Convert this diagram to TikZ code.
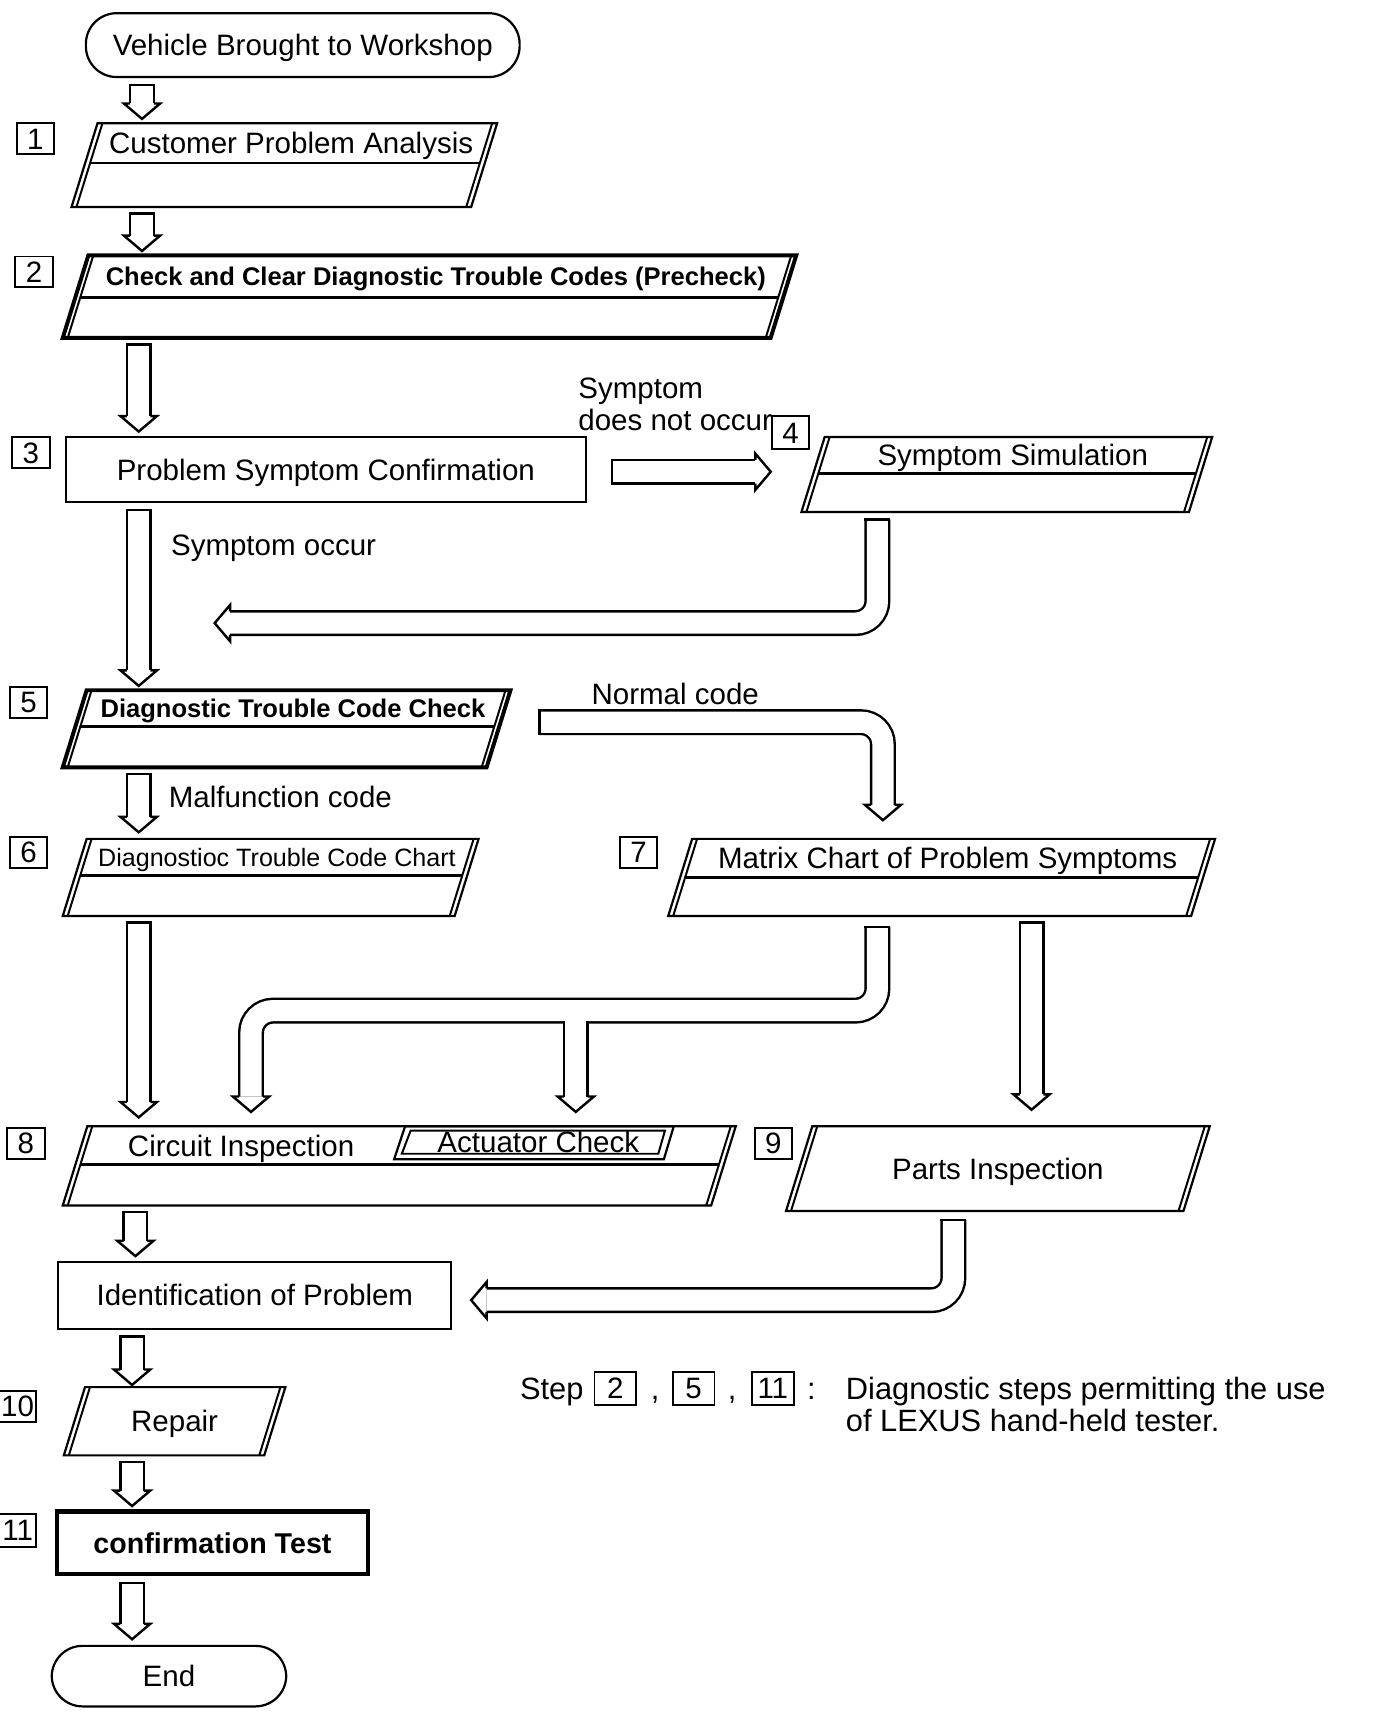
\documentclass[tikz,border=0pt]{standalone}
\usepackage{fontspec}
\setmainfont{Liberation Sans}
\usetikzlibrary{calc}

\tikzset{
  txt/.style={font=\fontsize{13.4pt}{16pt}\selectfont, text height=9.6pt, text depth=0pt, inner sep=0pt},
  txtb/.style={font=\bfseries\fontsize{11.6pt}{14pt}\selectfont, text height=8.4pt, text depth=0pt, inner sep=0pt},
  txts/.style={font=\fontsize{11.4pt}{14pt}\selectfont, text height=8.2pt, text depth=0pt, inner sep=0pt},
  note/.style={font=\fontsize{14pt}{16pt}\selectfont, text height=10pt, text depth=0pt, inner sep=0pt},
  term/.style={draw, line width=1pt, rounded corners=14pt, txt},
  procbox/.style={draw, line width=1pt, txt},
  stepno/.style={draw, line width=0.9pt, minimum width=17pt, minimum height=14pt, txt},
  shaft/.style={double, double distance=9.6pt, line width=1.1pt},
  capl/.style={line width=1.1pt, line cap=rect},
  headd/.pic={\draw[line width=1.1pt] (-10.7,-14) -- (-16.5,-14) -- (0,0) -- (16.5,-14) -- (10.7,-14);},
}

% parallelogram with double slanted sides and a header line
% #1 name, #2 left x (bottom), #3 right x (bottom), #4 top y, #5 bottom y,
% #6 header line y, #7 frame width, #8 text style, #9 text
\newcommand\parabox[9]{%
  \pgfmathsetmacro\pbsl{0.31*(#5-#4)}%
  \pgfmathsetmacro\pbym{(#4+#6)/2}%
  \pgfmathsetmacro\pbxm{(#2+#3)/2+0.31*(#5-\pbym)}%
  \pgfmathsetmacro\pbxd{0.31*(#5-#6)}%
  \coordinate (#1-bl) at (#2,#5);
  \coordinate (#1-br) at (#3,#5);
  \coordinate (#1-tl) at ({#2+\pbsl},#4);
  \coordinate (#1-tr) at ({#3+\pbsl},#4);
  \draw[line width=#7] (#1-bl) -- (#1-tl) -- (#1-tr) -- (#1-br) -- cycle;
  \draw[line width=0.9pt] ($(#1-bl)+(4.5,0)$) -- ($(#1-tl)+(4.5,0)$);
  \draw[line width=0.9pt] ($(#1-br)+(-4.5,0)$) -- ($(#1-tr)+(-4.5,0)$);
  \ifdim #6pt<#5pt
    \draw[line width=1.2pt] ({#2+4.5+\pbxd},#6) -- ({#3-4.5+\pbxd},#6);
  \fi
  \node[#8] (#1) at (\pbxm,\pbym) {#9};}

% straight hollow arrow down: [tip gap] column, from, to
\newcommand\varrow[4][4]{%
  \draw[shaft] ($(#3 -| #2)+(0,6)$) -- ($(#4 -| #2)+(0,-14-#1)$);
  \draw[capl] ($(#3 -| #2)+(-10.7,6)$) -- ($(#3 -| #2)+(10.7,6)$);
  \pic at ($(#4 -| #2)+(0,-#1)$) {headd};}

\begin{document}
\begin{tikzpicture}[x=0.5pt, y=-0.5pt]
\useasboundingbox (0,0) rectangle (1250,1566);

% steps
\node[term, minimum width=197pt, minimum height=29pt] (start) at (275,41) {Vehicle Brought to Workshop};
\parabox{p1}{65}{428}{112}{188}{148}{1pt}{txt}{Customer Problem Analysis}
\parabox{p2}{57}{700}{232}{307}{270}{1.8pt}{txtb}{Check and Clear Diagnostic Trouble Codes (Precheck)}
\node[procbox, minimum width=236pt, minimum height=29.5pt] (psc) at (296,426.5) {Problem Symptom Confirmation};
\parabox{p4}{728}{1080}{397}{465}{430}{1pt}{txt}{Symptom Simulation}
\parabox{p5}{57}{442}{627}{697}{660}{1.8pt}{txtb}{Diagnostic Trouble Code Check}
\parabox{p6}{57}{413}{762}{832}{795}{1pt}{txts}{Diagnostioc Trouble Code Chart}
\parabox{p7}{607}{1082}{762}{832}{797}{1pt}{txt}{Matrix Chart of Problem Symptoms}
\parabox{p8}{57}{646}{1023}{1095}{1058}{1pt}{txt}{}
\parabox{p9}{714}{1075}{1023}{1100}{1100}{1pt}{txt}{Parts Inspection}
\node[procbox, minimum width=178.5pt, minimum height=30.5pt] (pid) at (231.5,1176.5) {Identification of Problem};
\parabox{p10}{58}{240}{1260}{1322}{1322}{1pt}{txt}{Repair}
\node[procbox, line width=2pt, font=\bfseries\fontsize{13pt}{15pt}\selectfont, minimum width=141pt, minimum height=28.5pt] (pct) at (193,1401.5) {confirmation Test};
\node[term, minimum width=106.5pt, minimum height=27.5pt] (pend) at (153.5,1522.5) {End};

% circuit inspection / actuator check
\node[txt] (pci) at (219,1041) {Circuit Inspection};
\draw[line width=1pt] (368,1023) -- (612,1023) -- (603,1053) -- (358,1053) -- cycle;
\draw[line width=0.9pt] (373,1027) -- (604,1027) -- (598,1048) -- (365,1048) -- cycle;
\node[txt] (pac) at (489,1037) {Actuator Check};

% step numbers
\node[stepno] (n1) at (32,126) {1};
\node[stepno] (n2) at (31,247) {2};
\node[stepno] (n3) at (28,411) {3};
\node[stepno, minimum height=15pt] (n4) at (718,393) {4};
\node[stepno] (n5) at (26,638) {5};
\node[stepno] (n6) at (26,774) {6};
\node[stepno] (n7) at (580,774) {7};
\node[stepno] (n8) at (23.5,1038.5) {8};
\node[stepno] (n9) at (702.5,1038.5) {9};
\node[stepno] (n10) at (16,1277.5) {10};
\node[stepno, minimum height=15pt] (n11) at (16,1390) {11};

% labels
\node[txt, anchor=west] (lsym1) at (525,352) {Symptom};
\node[txt, anchor=west] (lsym2) at (525,381) {does not occur};
\node[txt, anchor=west] (locc) at (155,495) {Symptom occur};
\node[txt, anchor=west] (lnorm) at (537,630) {Normal code};
\node[txt, anchor=west] (lmal) at (153,724) {Malfunction code};

% columns
\coordinate (cA) at (129,0);
\coordinate (cB) at (126,0);
\coordinate (cD) at (123,0);
\coordinate (cC) at (120,0);
\coordinate (c5) at (797,0);
\coordinate (c7) at (802,0);
\coordinate (c10) at (228,0);
\coordinate (cb) at (523,0);
\coordinate (c11) at (937,0);
\coordinate (c13) at (866,0);

% straight arrows
\varrow{cA}{start.south}{p1-tl}
\varrow{cA}{p1-bl}{p2-tl}
\varrow{cB}{p2-bl}{psc.north}
\varrow{cB}{psc.south}{p5-tl}
\varrow[6]{cB}{p5-bl}{p6-tl}
\varrow[8]{cB}{p6-bl}{p8-tl}
\varrow[15]{c11}{p7-bl}{p9-tl}
\varrow{cD}{p8-bl}{pid.north}
\varrow[2]{cC}{pid.south}{p10-tl}
\varrow[3]{cC}{p10-bl}{pct.north}
\varrow[5]{cC}{pct.south}{pend.north}

% symptom does not occur
\coordinate (t4) at ($(n4.west |- psc.east)+(0,2)$);
\draw[shaft] ($(psc.east)+(23,2)$) -- ($(t4)+(-14,0)$);
\draw[capl] ($(psc.east)+(23,-8.7)$) -- ($(psc.east)+(23,12.7)$);
\pic[rotate=90] at (t4) {headd};

% back from symptom simulation
\coordinate (t5) at (195,566);
\draw[shaft, rounded corners=10pt] ($(p4-bl -| c5)+(0,7)$) -- (c5 |- t5) -- ($(t5)+(14,0)$);
\draw[capl] ($(p4-bl -| c5)+(-10.7,7)$) -- ($(p4-bl -| c5)+(10.7,7)$);
\pic[rotate=-90] at (t5) {headd};

% normal code
\coordinate (s7) at ($(p5-br)+(48,-41)$);
\draw[shaft, rounded corners=10pt] (s7) -- (c7 |- s7) -- ($(p7-tl -| c7)+(0,-31)$);
\draw[capl] ($(s7)+(0,-10.7)$) -- ($(s7)+(0,10.7)$);
\pic at ($(p7-tl -| c7)+(0,-17)$) {headd};

% matrix chart to circuit inspection and actuator check
\coordinate (r10) at (0,918);
\draw[shaft, rounded corners=10pt] ($(p7-bl -| c5)+(0,10)$) -- (c5 |- r10) -- (c10 |- r10) -- ($(p8-tl -| c10)+(0,-27)$);
\draw[capl] ($(p7-bl -| c5)+(-10.7,10)$) -- ($(p7-bl -| c5)+(10.7,10)$);
\pic at ($(p8-tl -| c10)+(0,-13)$) {headd};
\draw[shaft] ($(cb |- r10)+(0,9.6)$) -- ($(p8-tl -| cb)+(0,-27)$);
\pic at ($(p8-tl -| cb)+(0,-13)$) {headd};

% parts inspection to identification
\coordinate (t13) at ($(pid.east)+(17,4.5)$);
\draw[shaft, rounded corners=10pt] ($(p9-bl -| c13)+(0,8)$) -- (c13 |- t13) -- ($(t13)+(14,0)$);
\draw[capl] ($(p9-bl -| c13)+(-10.7,8)$) -- ($(p9-bl -| c13)+(10.7,8)$);
\pic[rotate=-90] at (t13) {headd};

% legend
\node[note, anchor=west] (lstep) at (472,1261) {Step};
\node[stepno, minimum width=19pt, minimum height=15pt] (lg2) at (559,1261) {2};
\node[note] (lc1) at (595,1261) {,};
\node[stepno, minimum width=19pt, minimum height=15pt] (lg5) at (630,1261) {5};
\node[note] (lc2) at (665,1261) {,};
\node[stepno, minimum width=19pt, minimum height=15pt] (lg11) at (702,1261) {11};
\node[note] (lcol) at (737,1261) {:};
\node[note, anchor=west] (lnote1) at (768,1261) {Diagnostic steps permitting the use};
\node[note, anchor=west] (lnote2) at (768,1290) {of LEXUS hand-held tester.};
\end{tikzpicture}
\end{document}
